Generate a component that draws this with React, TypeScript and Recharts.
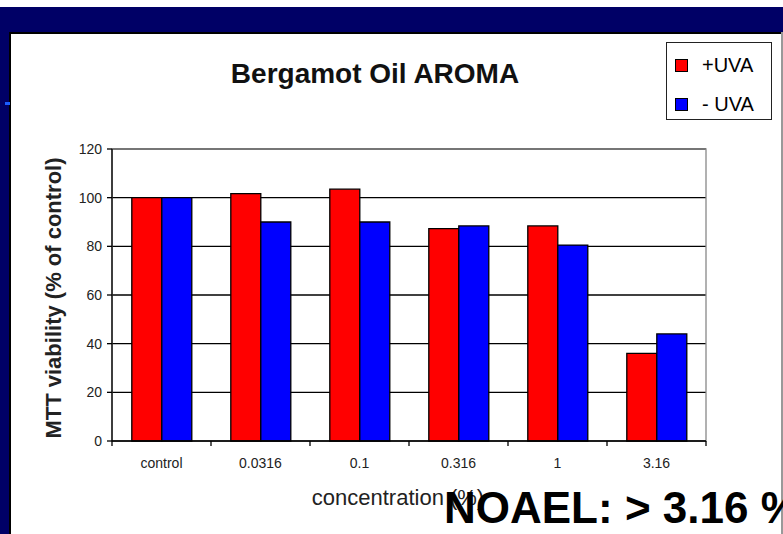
import { BarChart, Bar, XAxis, YAxis, CartesianGrid, ReferenceArea } from "recharts";

const categories = ["control", "0.0316", "0.1", "0.316", "1", "3.16"];
const withUva = [100, 101.7, 103.5, 87.3, 88.4, 36];
const withoutUva = [100, 90, 90, 88.4, 80.5, 44];
const yTicks = [0, 20, 40, 60, 80, 100, 120];
const legendItems = [
  { label: "+UVA", color: "#ff0000" },
  { label: "- UVA", color: "#0000ff" },
];

const data = categories.map((c, i) => ({ name: c, plus: withUva[i], minus: withoutUva[i] }));

const FONT = "Arial, 'Liberation Sans', Helvetica, sans-serif";

function CategoryTick(props: any) {
  const { x, y, payload, index, visibleTicksCount } = props;
  const half = payload?.offset || 49.5;
  const axisY = 441;
  return (
    <g>
      <line x1={x - half} x2={x - half} y1={axisY} y2={axisY + 5} stroke="#000" strokeWidth={1.3} />
      {index === visibleTicksCount - 1 && (
        <line x1={x + half} x2={x + half} y1={axisY} y2={axisY + 5} stroke="#000" strokeWidth={1.3} />
      )}
      <text x={x} y={y} dy="0.71em" textAnchor="middle" fontSize={14} fill="#222" fontFamily={FONT}>
        {payload.value}
      </text>
    </g>
  );
}

function LegendBox() {
  return (
    <div
      style={{
        position: "absolute",
        left: 666,
        top: 42,
        width: 104,
        height: 76,
        border: "1.5px solid #222",
        background: "#fff",
        fontFamily: FONT,
      }}
    >
      {legendItems.map((it, i) => (
        <div key={it.label} style={{ position: "absolute", left: 8, top: 15 + i * 39, display: "flex", alignItems: "center" }}>
          <span style={{ width: 11, height: 11, background: it.color, border: "1px solid #000", display: "inline-block" }} />
          <span style={{ marginLeft: 14, fontSize: 20, lineHeight: "14px", color: "#000" }}>{it.label}</span>
        </div>
      ))}
    </div>
  );
}

export default function App() {
  return (
    <div style={{ position: "absolute", left: 0, top: 0, width: 783, height: 534, background: "#fff", overflow: "hidden" }}>
      {/* slide frame */}
      <div style={{ position: "absolute", left: 0, top: 7, width: 783, height: 25, background: "#000066" }} />
      <div style={{ position: "absolute", left: 0, top: 7, width: 9, height: 527, background: "#000066" }} />
      <div style={{ position: "absolute", left: 9, top: 32, width: 774, height: 1.5, background: "#000" }} />
      <div style={{ position: "absolute", left: 9, top: 32, width: 1.5, height: 502, background: "#000" }} />
      <div style={{ position: "absolute", left: 781, top: 32, width: 1.5, height: 502, background: "#999" }} />
      <div style={{ position: "absolute", left: 5, top: 102, width: 5, height: 3, background: "#1a5cff" }} />

      <div style={{ position: "absolute", left: 0, top: 0 }}>
        <BarChart
          width={783}
          height={534}
          data={data}
          margin={{ top: 149, right: 77, bottom: 63, left: 0 }}
          barCategoryGap="20%"
          barGap={0}
        >
          <CartesianGrid vertical={false} stroke="#000" strokeWidth={1.3} />
          <ReferenceArea y1={0} y2={120} fill="none" stroke="#888" strokeWidth={1.3} ifOverflow="visible" />
          <XAxis
            dataKey="name"
            height={30}
            axisLine={{ stroke: "#000", strokeWidth: 1.3 }}
            tickLine={false}
            tickMargin={11}
            tick={<CategoryTick />}
            interval={0}
            label={{
              value: "concentration (%)",
              position: "bottom",
              offset: 18,
              dx: -11,
              style: { fontSize: 22, fill: "#222", fontFamily: FONT },
            }}
          />
          <YAxis
            width={112}
            domain={[0, 120]}
            ticks={yTicks}
            interval={0}
            axisLine={{ stroke: "#000", strokeWidth: 1.3 }}
            tickLine={{ stroke: "#000", strokeWidth: 1.3 }}
            tickSize={5}
            tickMargin={5}
            tick={{ fontSize: 14, fill: "#222", fontFamily: FONT }}
            label={{
              value: "MTT viability (% of control)",
              angle: -90,
              position: "center",
              dx: -3,
              dy: 3,
              style: { fontSize: 22, fontWeight: "bold", fill: "#222", fontFamily: FONT },
            }}
          />
          <Bar dataKey="plus" name="+UVA" fill="#ff0000" stroke="#000" strokeWidth={1.3} isAnimationActive={false} />
          <Bar dataKey="minus" name="- UVA" fill="#0000ff" stroke="#000" strokeWidth={1.3} isAnimationActive={false} />
        </BarChart>
      </div>

      <LegendBox />

      <svg width={783} height={534} style={{ position: "absolute", left: 0, top: 0, pointerEvents: "none" }}>
        <text x={375} y={83} textAnchor="middle" fontSize={28} fontWeight="bold" fill="#111" fontFamily={FONT}>
          Bergamot Oil AROMA
        </text>
        <text x={444} y={523} fontSize={44} fontWeight="bold" fill="#000" fontFamily={FONT}>
          NOAEL: &gt; 3.16 %
        </text>
      </svg>
    </div>
  );
}
